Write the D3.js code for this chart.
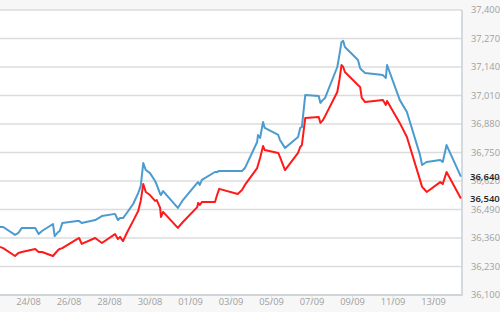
<!DOCTYPE html>
<html lang="en">
<head>
    <meta charset="UTF-8">
    <style>
        body { margin: 0; background: #f7f7f7; }
        svg { display: block; font-family: "Open Sans", sans-serif; }
        .tick-label { font-size: 9.3px; fill: #a0a0a0; }
        .last-label { font-size: 9.5px; fill: #222; font-weight: 600; }
    </style>
    <script src="https://d3js.org/d3.v7.min.js"></script>
    <title>Gold price</title>
</head>
<body>
    <svg width="500" height="312"></svg>
    <script>

        // sample times
        var times = [
            "2014-08-22 14:12", "2014-08-22 18:00", "2014-08-23 08:00", "2014-08-23 12:00", "2014-08-23 16:00",
            "2014-08-24 08:00", "2014-08-24 12:00", "2014-08-24 16:00", "2014-08-25 05:00", "2014-08-25 07:00",
            "2014-08-25 11:00", "2014-08-25 13:00", "2014-08-25 16:00", "2014-08-26 09:30", "2014-08-26 12:00",
            "2014-08-26 15:00", "2014-08-27 07:00", "2014-08-27 15:00", "2014-08-28 06:30", "2014-08-28 10:00",
            "2014-08-28 12:30", "2014-08-28 16:00", "2014-08-28 20:30", "2014-08-29 04:00", "2014-08-29 10:00",
            "2014-08-29 13:00", "2014-08-29 16:00", "2014-08-29 19:00", "2014-08-30 00:00", "2014-08-30 06:00",
            "2014-08-30 08:00", "2014-08-30 12:00", "2014-08-30 13:00", "2014-08-30 15:30", "2014-08-31 09:00",
            "2014-08-31 15:00", "2014-09-01 08:00", "2014-09-01 09:00", "2014-09-01 11:00", "2014-09-01 13:30",
            "2014-09-02 05:00", "2014-09-02 07:30", "2014-09-02 10:00", "2014-09-03 08:00", "2014-09-03 13:00",
            "2014-09-03 16:30", "2014-09-04 07:00", "2014-09-04 08:00", "2014-09-04 10:30", "2014-09-04 14:00",
            "2014-09-04 16:00", "2014-09-05 08:00", "2014-09-05 10:00", "2014-09-05 16:00", "2014-09-06 07:30",
            "2014-09-06 10:00", "2014-09-06 12:00", "2014-09-06 16:00", "2014-09-07 08:00", "2014-09-07 10:00",
            "2014-09-07 13:00", "2014-09-07 15:30", "2014-09-08 06:00", "2014-09-08 08:30", "2014-09-08 11:00",
            "2014-09-08 13:00", "2014-09-08 15:00", "2014-09-09 06:30", "2014-09-09 09:00", "2014-09-09 11:00",
            "2014-09-09 15:00", "2014-09-10 12:00", "2014-09-10 15:30", "2014-09-10 17:00", "2014-09-11 08:00",
            "2014-09-11 16:30", "2014-09-12 08:00", "2014-09-12 10:30", "2014-09-12 14:00", "2014-09-12 16:00",
            "2014-09-13 08:00", "2014-09-13 11:00", "2014-09-13 15:30", "2014-09-14 08:30"
        ];

        // upper (blue) series
        var sellPrice = [
            36410, 36410, 36374, 36383, 36406, 36406, 36378, 36392, 36424, 36369,
            36387, 36392, 36428, 36438, 36438, 36428, 36442, 36460, 36470, 36442,
            36451, 36451, 36474, 36515, 36565, 36597, 36702, 36670, 36656, 36620,
            36602, 36561, 36556, 36574, 36497, 36533, 36611, 36615, 36602, 36625,
            36661, 36661, 36666, 36666, 36666, 36679, 36798, 36830, 36816, 36889,
            36862, 36830, 36807, 36771, 36821, 36862, 36866, 37012, 37008, 36976,
            36990, 36999, 37140, 37195, 37254, 37259, 37231, 37172, 37135, 37126,
            37113, 37103, 37090, 37149, 36990, 36935, 36739, 36693, 36702, 36707,
            36716, 36707, 36784, 36640
        ];

        // lower (red) series
        var buyPrice = [
            36319, 36314, 36278, 36292, 36296, 36310, 36296, 36296, 36278, 36287,
            36305, 36310, 36314, 36355, 36360, 36333, 36360, 36337, 36378, 36355,
            36365, 36346, 36383, 36438, 36483, 36529, 36606, 36570, 36556, 36529,
            36533, 36497, 36456, 36479, 36406, 36433, 36501, 36520, 36511, 36524,
            36524, 36556, 36584, 36561, 36579, 36602, 36679, 36693, 36725, 36780,
            36761, 36748, 36730, 36670, 36748, 36775, 36784, 36907, 36912, 36885,
            36898, 36916, 37026, 37081, 37149, 37140, 37117, 37058, 37049, 36999,
            36980, 36990, 36967, 36985, 36885, 36821, 36625, 36593, 36579, 36570,
            36615, 36606, 36661, 36540
        ];

        var xTickLabels = ["24/08", "26/08", "28/08", "30/08", "01/09", "03/09",
                           "05/09", "07/09", "09/09", "11/09", "13/09"];
        var yTicks = [36100, 36230, 36360, 36490, 36620, 36750, 36880, 37010, 37140, 37270, 37400];

        var svg = d3.select("svg"),
            width = +svg.attr("width"),
            height = +svg.attr("height");

        var plot = { left: 0, right: 462, top: 10, bottom: 295 };

        var parseTime = d3.timeParse("%Y-%m-%d %H:%M");
        var parseTick = function(s) { return d3.timeParse("%d/%m/%Y")(s + "/2014"); };

        var x = d3.scaleTime()
                  .domain([parseTime("2014-08-22 14:12"), parseTime("2014-09-14 09:48")])
                  .range([plot.left, plot.right]);

        var y = d3.scaleLinear()
                  .domain([yTicks[0], yTicks[yTicks.length - 1]])
                  .range([plot.bottom, plot.top]);

        // white plot area
        svg.append("rect")
           .attr("x", plot.left).attr("y", plot.top)
           .attr("width", plot.right - plot.left).attr("height", plot.bottom - plot.top)
           .attr("fill", "#fff");

        // horizontal grid lines
        svg.append("g")
           .selectAll("line")
           .data(yTicks)
           .enter().append("line")
           .attr("x1", plot.left).attr("x2", plot.right)
           .attr("y1", function(d) { return y(d); })
           .attr("y2", function(d) { return y(d); })
           .attr("stroke", "#dcdcdc")
           .attr("stroke-width", 1.6);

        // x axis ticks + labels
        var xg = svg.append("g");
        xg.selectAll("line")
          .data(xTickLabels)
          .enter().append("line")
          .attr("x1", function(d) { return x(parseTick(d)); })
          .attr("x2", function(d) { return x(parseTick(d)); })
          .attr("y1", plot.bottom).attr("y2", plot.bottom + 9)
          .attr("stroke", "#e2e2e2");
        xg.selectAll("text")
          .data(xTickLabels)
          .enter().append("text")
          .attr("class", "tick-label")
          .attr("x", function(d) { return x(parseTick(d)); })
          .attr("y", plot.bottom + 7)
          .attr("dy", "0.35em")
          .attr("text-anchor", "middle")
          .text(function(d) { return d; });

        // plot border (bottom + right)
        svg.append("path")
           .attr("d", "M" + plot.left + "," + plot.bottom + "H" + plot.right + "V" + plot.top)
           .attr("fill", "none")
           .attr("stroke", "#c9d0d6")
           .attr("stroke-width", 1.5);

        // y tick labels on the right
        svg.append("g")
           .selectAll("text")
           .data(yTicks)
           .enter().append("text")
           .attr("class", "tick-label")
           .attr("x", 471)
           .attr("y", function(d) { return y(d); })
           .attr("dy", "0.35em")
           .text(function(d) { return d3.format(",")(d); });

        // lines
        var line = d3.line()
                     .x(function(d) { return x(d.t); })
                     .y(function(d) { return y(d.v); });

        var series = [
            { values: sellPrice, color: "#4b9bd0" },
            { values: buyPrice, color: "#ff1a1a" }
        ];

        series.forEach(function(s) {
            var pts = times.map(function(t, i) { return { t: parseTime(t), v: s.values[i] }; });
            svg.append("path")
               .datum(pts)
               .attr("d", line)
               .attr("fill", "none")
               .attr("stroke", s.color)
               .attr("stroke-width", 2)
               .attr("stroke-linejoin", "round");

            // latest value label
            var last = s.values[s.values.length - 1];
            svg.append("text")
               .attr("class", "last-label")
               .attr("x", 470)
               .attr("y", y(last))
               .attr("dy", "0.35em")
               .text(d3.format(",")(last));
        });

    </script>
</body>
</html>
